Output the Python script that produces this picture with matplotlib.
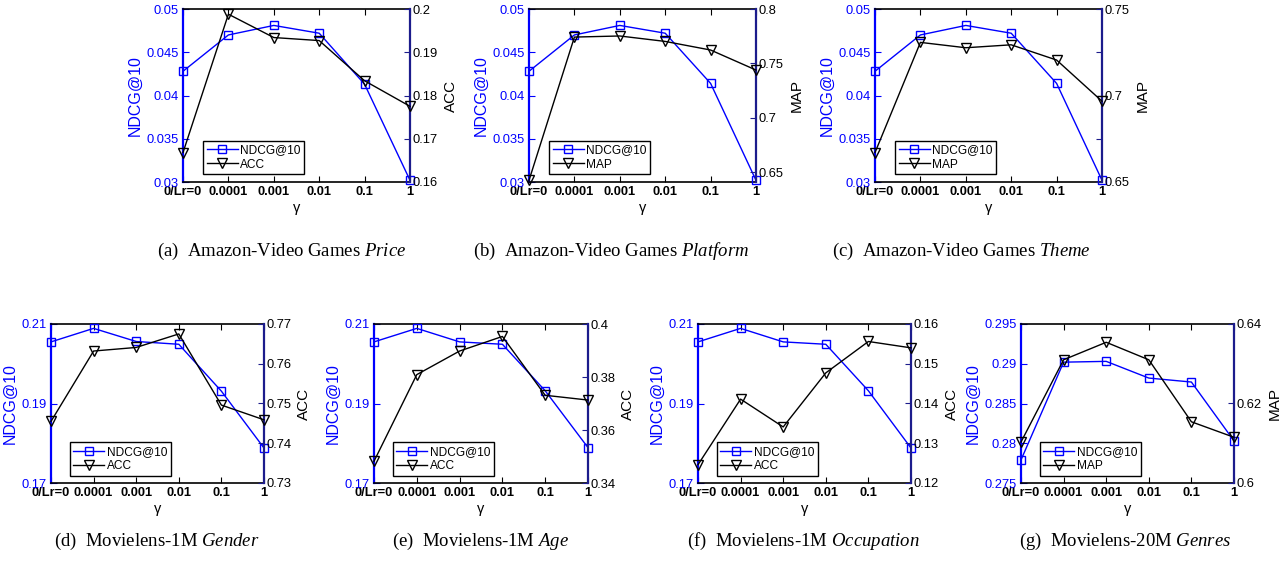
import matplotlib
matplotlib.use('Agg')
import matplotlib.pyplot as plt

plt.rcParams['font.family'] = ['Liberation Sans', 'DejaVu Sans']
plt.rcParams['mathtext.fontset'] = 'custom'
plt.rcParams['mathtext.rm'] = 'Liberation Serif'
plt.rcParams['mathtext.it'] = 'Liberation Serif:italic'

# x axis: learning-rate setting gamma
gamma_labels = ['0/Lr=0', '0.0001', '0.001', '0.01', '0.1', '1']

# Amazon-Video Games
ndcg_vg_price = [0.0428, 0.0470, 0.0481, 0.0472, 0.0413, 0.0302]
acc_vg_price = [0.1668, 0.1988, 0.1934, 0.1927, 0.1834, 0.1775]
ndcg_vg_platform = [0.0428, 0.0470, 0.0481, 0.0472, 0.0414, 0.0302]
map_vg_platform = [0.6425, 0.7742, 0.7752, 0.7702, 0.7623, 0.7439]
ndcg_vg_theme = [0.0428, 0.0470, 0.0481, 0.0472, 0.0414, 0.0302]
map_vg_theme = [0.6670, 0.7307, 0.7276, 0.7293, 0.7205, 0.6967]

# Movielens-1M
ndcg_ml1m_gender = [0.2055, 0.2089, 0.2056, 0.2049, 0.1931, 0.1788]
acc_ml1m_gender = [0.7455, 0.7632, 0.7641, 0.7675, 0.7496, 0.7459]
ndcg_ml1m_age = [0.2055, 0.2089, 0.2055, 0.2049, 0.1932, 0.1789]
acc_ml1m_age = [0.3482, 0.3809, 0.3898, 0.3953, 0.3731, 0.3713]
ndcg_ml1m_occ = [0.2055, 0.2089, 0.2055, 0.2049, 0.1932, 0.1788]
acc_ml1m_occ = [0.1246, 0.1411, 0.1341, 0.1477, 0.1556, 0.1540]

# Movielens-20M
ndcg_ml20m_genres = [0.2779, 0.2902, 0.2903, 0.2882, 0.2877, 0.2803]
map_ml20m_genres = [0.6103, 0.6310, 0.6354, 0.6310, 0.6154, 0.6115]

W, H = 1286, 566
NAVY = '#1c1c8c'

fig = plt.figure(figsize=(W / 100, H / 100), dpi=100)


def px_axes(left, top, width, height):
    return fig.add_axes([left / W, 1 - (top + height) / H, width / W, height / H])


def fmt(v):
    return '%g' % v


def draw_panel(box, ndcg, other, other_name, ylim_l, ticks_l, ylim_r, ticks_r,
               labels_r, caption, cap_x, cap_y):
    ax = px_axes(*box)
    ax2 = ax.twinx()
    x = list(range(len(gamma_labels)))

    ln1, = ax.plot(x, ndcg, color='blue', lw=1, marker='s', ms=6, mfc='none',
                   mec='blue', mew=1, clip_on=False, zorder=3)
    ln2, = ax2.plot(x, other, color='black', lw=1, marker='v', ms=7, mfc='none',
                    mec='black', mew=1, clip_on=False, zorder=3)

    ax.set_xlim(0, len(x) - 1)
    ax.set_xticks(x)
    ax.set_xticklabels(gamma_labels, fontweight='bold', fontsize=9.3)
    ax.set_xlabel('γ', fontsize=10.5, labelpad=2)

    ax.set_ylim(*ylim_l)
    ax.set_yticks(ticks_l)
    ax.set_yticklabels([fmt(t) for t in ticks_l], fontsize=9.3, color='blue')
    ax.set_ylabel('NDCG@10', color='blue', fontsize=11.5, labelpad=3)

    ax2.set_ylim(*ylim_r)
    ax2.set_yticks(ticks_r)
    ax2.set_yticklabels(labels_r, fontsize=9.3, color='black')
    ax2.set_ylabel(other_name, color='black', fontsize=11)

    ax.tick_params(axis='x', direction='in', top=True, length=4, width=0.8, pad=3)
    ax.tick_params(axis='y', direction='in', length=4, width=0.8, color='blue', pad=3)
    ax2.tick_params(axis='y', direction='in', length=4, width=0.8, color=NAVY, pad=2)

    ax.spines['right'].set_visible(False)
    ax2.spines['left'].set_visible(False)
    ax2.spines['top'].set_visible(False)
    ax2.spines['bottom'].set_visible(False)
    ax.spines['left'].set_color('blue')
    ax.spines['left'].set_linewidth(1.6)
    ax2.spines['right'].set_color(NAVY)
    ax2.spines['right'].set_linewidth(1.6)
    ax.spines['top'].set_linewidth(1.2)
    ax.spines['bottom'].set_linewidth(1.2)

    leg = ax2.legend([ln1, ln2], ['NDCG@10', other_name], loc='lower left',
                     bbox_to_anchor=(0.088, 0.045), borderaxespad=0,
                     fontsize=8.6, handlelength=2.6, handletextpad=0.2,
                     borderpad=0.3, labelspacing=0.2, fancybox=False,
                     framealpha=1, edgecolor='black')
    leg.get_frame().set_linewidth(1.0)

    fig.text(cap_x / W, 1 - cap_y / H, caption, ha='center', va='center',
             fontsize=13.5, family='Liberation Serif')


t_vg = [0.03, 0.035, 0.04, 0.045, 0.05]
t_ml = [0.17, 0.19, 0.21]

draw_panel((183, 9, 227, 173), ndcg_vg_price, acc_vg_price, 'ACC',
           (0.03, 0.05), t_vg, (0.16, 0.2), [0.16, 0.17, 0.18, 0.19, 0.2],
           ['0.16', '0.17', '0.18', '0.19', '0.2'],
           r'(a)  Amazon-Video Games $\mathit{Price}$', 282, 251)
draw_panel((529, 9, 227, 173), ndcg_vg_platform, map_vg_platform, 'MAP',
           (0.03, 0.05), t_vg, (0.641, 0.8), [0.65, 0.7, 0.75, 0.8],
           ['0.65', '0.7', '0.75', '0.8'],
           r'(b)  Amazon-Video Games $\mathit{Platform}$', 611, 251)
draw_panel((875, 9, 227, 173), ndcg_vg_theme, map_vg_theme, 'MAP',
           (0.03, 0.05), t_vg, (0.65, 0.75), [0.65, 0.675, 0.7, 0.725, 0.75],
           ['0.65', '', '0.7', '', '0.75'],
           r'(c)  Amazon-Video Games $\mathit{Theme}$', 961, 251)

draw_panel((51, 324, 213, 159), ndcg_ml1m_gender, acc_ml1m_gender, 'ACC',
           (0.17, 0.21), t_ml, (0.73, 0.77), [0.73, 0.74, 0.75, 0.76, 0.77],
           ['0.73', '0.74', '0.75', '0.76', '0.77'],
           r'(d)  Movielens-1M $\mathit{Gender}$', 157, 541)
draw_panel((374, 324, 214, 159), ndcg_ml1m_age, acc_ml1m_age, 'ACC',
           (0.17, 0.21), t_ml, (0.34, 0.4), [0.34, 0.36, 0.38, 0.4],
           ['0.34', '0.36', '0.38', '0.4'],
           r'(e)  Movielens-1M $\mathit{Age}$', 481, 541)
draw_panel((698, 324, 213, 159), ndcg_ml1m_occ, acc_ml1m_occ, 'ACC',
           (0.17, 0.21), t_ml, (0.12, 0.16), [0.12, 0.13, 0.14, 0.15, 0.16],
           ['0.12', '0.13', '0.14', '0.15', '0.16'],
           r'(f)  Movielens-1M $\mathit{Occupation}$', 803, 541)
draw_panel((1021, 324, 213, 159), ndcg_ml20m_genres, map_ml20m_genres, 'MAP',
           (0.275, 0.295), [0.275, 0.28, 0.285, 0.29, 0.295], (0.6, 0.64),
           [0.6, 0.62, 0.64], ['0.6', '0.62', '0.64'],
           r'(g)  Movielens-20M $\mathit{Genres}$', 1125, 541)

fig.savefig('out.png', dpi=100)
